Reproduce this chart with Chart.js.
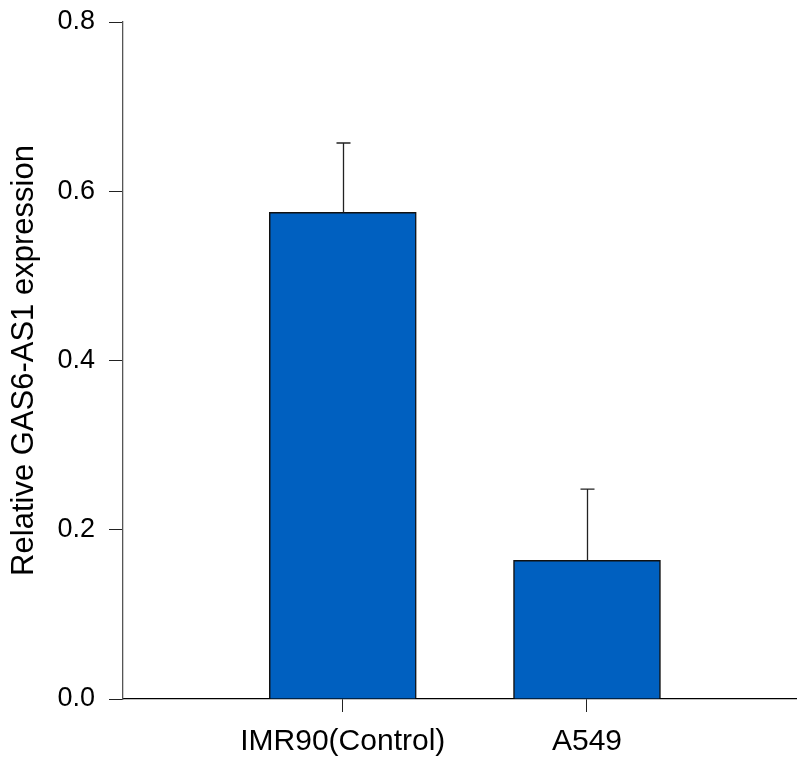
<!DOCTYPE html>
<html>
<head>
<meta charset="utf-8">
<script src="https://cdn.jsdelivr.net/npm/chart.js@4/dist/chart.umd.min.js"></script>
<style>
  html, body { margin: 0; padding: 0; background: #fff; }
  #wrap { width: 797px; height: 761px; }
</style>
</head>
<body>
<div id="wrap"><canvas id="chart"></canvas></div>
<script>
const categories = ["IMR90(Control)", "A549"];
const positions = [1, 2];
const expression = [0.575, 0.164];
const errors = [0.082, 0.084];
const yTicks = [0.0, 0.2, 0.4, 0.6, 0.8];

const FONT = "'Liberation Sans', Arial, sans-serif";

// upward-only error bars with a small cap
const errorBarPlugin = {
  id: "errorBars",
  afterDatasetsDraw(chart) {
    const ctx = chart.ctx;
    const yScale = chart.scales.y;
    const meta = chart.getDatasetMeta(0);
    ctx.save();
    ctx.strokeStyle = "#222";
    ctx.lineWidth = 1.3;
    meta.data.forEach((bar, i) => {
      const x = Math.round(bar.x) + 0.5;
      const yBase = bar.y;
      const yTop = yScale.getPixelForValue(expression[i] + errors[i]);
      ctx.beginPath();
      ctx.moveTo(x, yBase);
      ctx.lineTo(x, yTop);
      ctx.moveTo(x - 7, yTop);
      ctx.lineTo(x + 7, yTop);
      ctx.stroke();
    });
    ctx.restore();
  },
};

const ctx = document.getElementById("chart").getContext("2d");
new Chart(ctx, {
  type: "bar",
  data: {
    datasets: [
      {
        data: positions.map((p, i) => ({ x: p, y: expression[i] })),
        backgroundColor: "#0060C0",
        borderColor: "#111",
        borderWidth: 1.5,
        borderSkipped: "bottom",
        barThickness: 147,
      },
    ],
  },
  options: {
    responsive: true,
    maintainAspectRatio: false,
    animation: false,
    layout: { padding: { top: 22, right: 0, left: 0, bottom: 0 } },
    plugins: {
      legend: { display: false },
      tooltip: { enabled: false },
    },
    scales: {
      x: {
        type: "linear",
        offset: false,
        min: 0.1,
        max: 2.86,
        afterBuildTicks: (scale) => {
          scale.ticks = positions.map((p) => ({ value: p }));
        },
        afterFit: (scale) => {
          scale.height = 62;
          scale.paddingLeft = 0;
          scale.paddingRight = 0;
        },
        grid: {
          display: true,
          offset: false,
          drawOnChartArea: false,
          drawTicks: true,
          tickLength: 13,
          color: "#222",
        },
        border: { display: true, color: "#000", width: 1.3 },
        ticks: {
          padding: 12,
          color: "#000",
          font: { family: FONT, size: 30 },
          maxRotation: 0,
          autoSkip: false,
          callback: (v) => categories[positions.indexOf(v)] || "",
        },
      },
      y: {
        min: 0,
        max: 0.8,
        afterBuildTicks: (scale) => {
          scale.ticks = yTicks.map((v) => ({ value: v }));
        },
        afterFit: (scale) => {
          scale.width = 123;
          scale.paddingTop = 0;
          scale.paddingBottom = 0;
        },
        grid: {
          display: true,
          drawOnChartArea: false,
          drawTicks: true,
          tickLength: 14,
          color: "#222",
        },
        border: { display: true, color: "#555", width: 1.3 },
        ticks: {
          padding: 14,
          color: "#000",
          font: { family: FONT, size: 27 },
          callback: (v) => v.toFixed(1),
        },
        title: {
          display: true,
          text: "Relative GAS6-AS1 expression",
          color: "#000",
          font: { family: FONT, size: 31 },
          padding: { top: 6, bottom: 4 },
        },
      },
    },
  },
  plugins: [errorBarPlugin],
});
</script>
</body>
</html>
